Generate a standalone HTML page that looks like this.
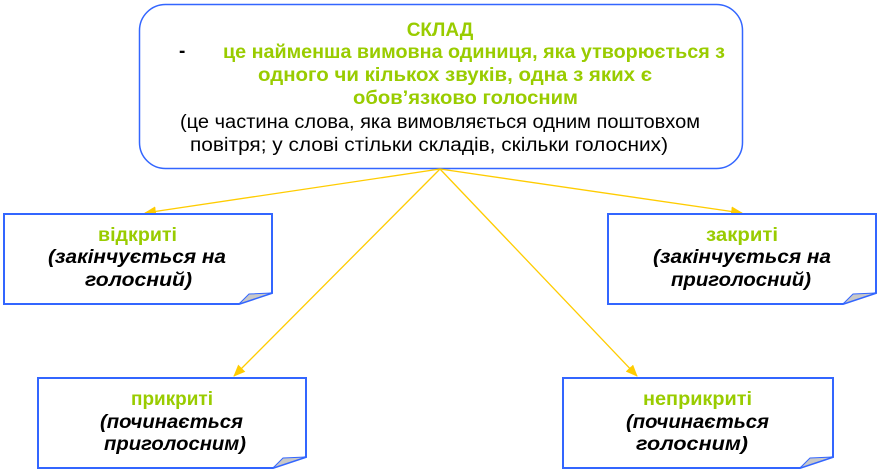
<!DOCTYPE html>
<html><head><meta charset="utf-8"><style>
html,body{margin:0;padding:0;background:#fff;}
svg{display:block;}
text{font-family:"Liberation Sans",Arial,sans-serif;font-size:19px;}
.g{fill:#99cc00;font-weight:bold;}
.b{fill:#000;}
.i{fill:#000;font-weight:bold;font-style:italic;}
</style></head><body>
<svg width="882" height="472" viewBox="0 0 882 472" xmlns="http://www.w3.org/2000/svg">
<defs>
<marker id="a" markerWidth="12" markerHeight="10" refX="11" refY="5" orient="auto" markerUnits="userSpaceOnUse">
<path d="M0,0 L12,5 L0,10 z" fill="#ffcc00"/>
</marker>
</defs>
<rect x="139.5" y="4.5" width="603" height="164" rx="26" fill="#fff" stroke="#3366ff" stroke-width="1.5"/>
<text x="440" y="36" class="g" text-anchor="middle">СКЛАД</text>
<text x="179" y="57" class="b" font-weight="bold">-</text>
<text x="223" y="58" class="g" textLength="502" lengthAdjust="spacingAndGlyphs">це найменша вимовна одиниця, яка утворюється з</text>
<text x="258" y="81" class="g" textLength="394" lengthAdjust="spacingAndGlyphs">одного чи  кількох звуків, одна з яких є</text>
<text x="353" y="104" class="g" textLength="225" lengthAdjust="spacingAndGlyphs">обов’язково голосним</text>
<text x="180" y="128" class="b" textLength="520" lengthAdjust="spacingAndGlyphs">(це частина слова, яка вимовляється одним поштовхом</text>
<text x="190" y="151" class="b" textLength="478" lengthAdjust="spacingAndGlyphs">повітря; у слові стільки складів, скільки голосних)</text>

<g stroke="#ffcc00" stroke-width="1.3" fill="none" marker-end="url(#a)">
<line x1="440" y1="169" x2="145" y2="213"/>
<line x1="440" y1="169" x2="742" y2="213"/>
<line x1="440" y1="169" x2="234" y2="376"/>
<line x1="440" y1="169" x2="637" y2="376"/>
</g>

<g stroke="#3366ff" stroke-width="2" fill="#fff">
<path d="M4,214 H272 V293 L239,304 H4 Z"/>
<path d="M608,214 H876 V293 L843,304 H608 Z"/>
<path d="M38,378 H306 V457 L273,468 H38 Z"/>
<path d="M563,378 H833 V457 L800,468 H563 Z"/>
</g>
<g fill="#c8c8c8" stroke="#3366ff" stroke-width="1">
<path d="M239,304 L249,294 L272,293 Z"/>
<path d="M843,304 L853,294 L876,293 Z"/>
<path d="M273,468 L283,458 L306,457 Z"/>
<path d="M800,468 L810,458 L833,457 Z"/>
</g>

<text x="98" y="241" class="g" textLength="79" lengthAdjust="spacingAndGlyphs">відкриті</text>
<text x="48" y="263" class="i" textLength="178" lengthAdjust="spacingAndGlyphs">(закінчується  на</text>
<text x="85" y="286" class="i" textLength="107" lengthAdjust="spacingAndGlyphs">голосний)</text>

<text x="706" y="241" class="g" textLength="72" lengthAdjust="spacingAndGlyphs">закриті</text>
<text x="653" y="263" class="i" textLength="178" lengthAdjust="spacingAndGlyphs">(закінчується  на</text>
<text x="671" y="286" class="i" textLength="140" lengthAdjust="spacingAndGlyphs">приголосний)</text>

<text x="131" y="405" class="g" textLength="82" lengthAdjust="spacingAndGlyphs">прикриті</text>
<text x="100" y="428" class="i" textLength="143" lengthAdjust="spacingAndGlyphs">(починається</text>
<text x="104" y="450" class="i" textLength="142" lengthAdjust="spacingAndGlyphs">приголосним)</text>

<text x="643" y="405" class="g" textLength="109" lengthAdjust="spacingAndGlyphs">неприкриті</text>
<text x="626" y="428" class="i" textLength="143" lengthAdjust="spacingAndGlyphs">(починається</text>
<text x="636" y="450" class="i" textLength="112" lengthAdjust="spacingAndGlyphs">голосним)</text>
</svg>
</body></html>
